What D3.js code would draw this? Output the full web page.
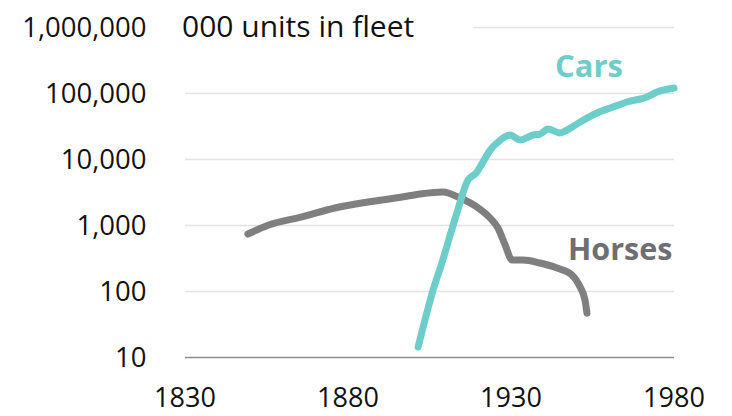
<!DOCTYPE html>
<html>
<head>
<meta charset="utf-8">
<script src="https://cdn.jsdelivr.net/npm/d3@7"></script>
<style>
  html, body { margin: 0; padding: 0; background: #fff; }
  svg { display: block; }
  text { font-family: "Open Sans", Lato, sans-serif; }
</style>
</head>
<body>
<svg id="chart" width="732" height="416"></svg>
<script>
const yTicks = [10, 100, 1000, 10000, 100000, 1000000];
const xTicks = [1830, 1880, 1930, 1980];
const title = "000 units in fleet";

const horseYears = [1849.3, 1855.5, 1865.9, 1876.0, 1886.1, 1896.6, 1902.1, 1909.1, 1914.4, 1919.6, 1923.6, 1926.0, 1928.2, 1930.3, 1933.7, 1938.9, 1944.1, 1948.7, 1951.2, 1952.7, 1953.3];
const horseValues = [743, 1010, 1350, 1840, 2270, 2700, 3000, 3220, 2610, 1900, 1300, 916, 507, 300, 300, 270, 227, 178, 117, 74, 47];

const carYears = [1901.5, 1903.6, 1906.1, 1908.5, 1913.4, 1916.8, 1919.3, 1921.4, 1923.6, 1925.7, 1929.7, 1932.8, 1936.8, 1938.9, 1941.4, 1945.0, 1947.2, 1951.2, 1956.4, 1961.3, 1965.6, 1971.7, 1974.8, 1980];
const carValues = [14.4, 37, 105, 243, 1550, 4890, 6240, 9160, 13900, 17800, 23500, 19700, 23500, 24300, 29000, 25200, 28000, 37000, 50700, 62400, 74300, 88500, 105000, 121000];

const svg = d3.select("#chart");
const x = d3.scaleLinear().domain([1830, 1980]).range([185, 674]);
const y = d3.scaleLog().domain([10, 1000000]).range([357.5, 27.5]);

// gridlines
svg.append("g").selectAll("line").data(yTicks).join("line")
  .attr("x1", d => d === 1000000 ? 473 : x(1830))
  .attr("x2", x(1980))
  .attr("y1", d => y(d)).attr("y2", d => y(d))
  .attr("stroke", d => d === 10 ? "#8c8c8c" : "#e2e2e2")
  .attr("stroke-width", 1.5);

// y labels
svg.append("g").selectAll("text").data(yTicks).join("text")
  .attr("x", 146.5)
  .attr("y", d => y(d))
  .attr("dy", "0.36em")
  .attr("text-anchor", "end")
  .attr("font-size", 27.5)
  .attr("fill", "#111")
  .text(d => d3.format(",")(d));

// x labels
svg.append("g").selectAll("text").data(xTicks).join("text")
  .attr("x", d => x(d))
  .attr("y", 407)
  .attr("text-anchor", "middle")
  .attr("font-size", 27)
  .attr("fill", "#111")
  .text(d => d);

// title
svg.append("text")
  .attr("x", 182).attr("y", 37)
  .attr("font-size", 30).attr("fill", "#111")
  .text(title);

const line = d3.line().x(d => x(d[0])).y(d => y(d[1])).curve(d3.curveMonotoneX);

svg.append("path")
  .datum(d3.zip(horseYears, horseValues))
  .attr("d", line)
  .attr("fill", "none")
  .attr("stroke", "#7f7f7f")
  .attr("stroke-width", 7)
  .attr("stroke-linecap", "round")
  .attr("stroke-linejoin", "round");

svg.append("path")
  .datum(d3.zip(carYears, carValues))
  .attr("d", line)
  .attr("fill", "none")
  .attr("stroke", "#6dcdc9")
  .attr("stroke-width", 7)
  .attr("stroke-linecap", "round")
  .attr("stroke-linejoin", "round");

// series labels
svg.append("text")
  .attr("x", 555).attr("y", 77)
  .attr("font-size", 31).attr("font-weight", "bold")
  .attr("fill", "#6dcdc9")
  .text("Cars");

svg.append("text")
  .attr("x", 568).attr("y", 260)
  .attr("font-size", 30.5).attr("font-weight", "bold")
  .attr("fill", "#6f6e74")
  .text("Horses");
</script>
</body>
</html>
